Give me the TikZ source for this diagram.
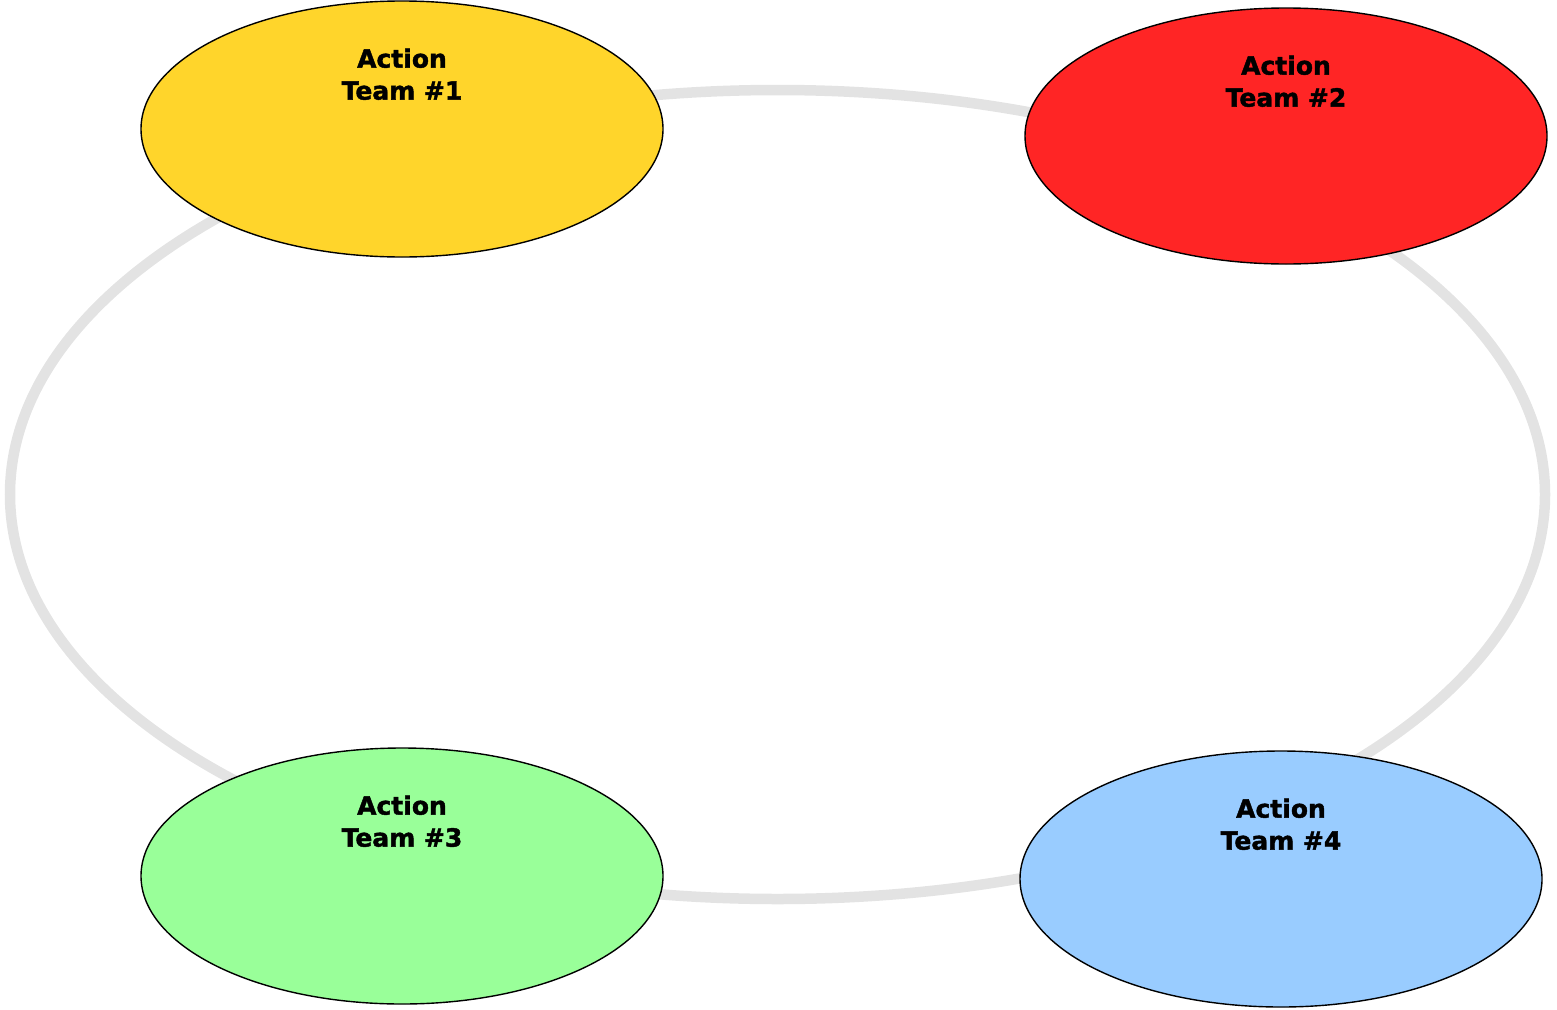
\documentclass[tikz,border=0pt]{standalone}
\usepackage{fontspec}
\setmainfont{DejaVu Sans}[BoldFeatures={FakeBold=1.6}]
\usetikzlibrary{shapes.geometric}
\definecolor{teamyellow}{HTML}{FFD52B}
\definecolor{teamred}{HTML}{FF2525}
\definecolor{teamgreen}{HTML}{99FF99}
\definecolor{teamblue}{HTML}{99CCFF}
\definecolor{ringgrey}{HTML}{E3E3E3}
\tikzset{
	team/.style={ellipse,draw=black,line width=1.4pt,minimum width=522pt,minimum height=256pt,inner sep=0pt},
	teamtext/.style={align=center,font=\bfseries\fontsize{25}{32}\selectfont,inner sep=0pt}
}
\begin{document}
\begin{tikzpicture}[x=1pt,y=-1pt]
		\useasboundingbox (0,0) rectangle (1557,1009);
		\coordinate (C) at (777.5,494.5);
		\draw[ringgrey,line width=10.5pt] (C) ellipse (767.5 and 404.5);
		\node[team,fill=teamyellow] (T1) at (402,129){};
		\node[team,fill=teamred] (T2) at (1286,136){};
		\node[team,fill=teamgreen] (T3) at (402,876){};
		\node[team,fill=teamblue] (T4) at (1281,879){};
		%labels sit in the upper part of each ellipse
		\node[teamtext] (L1) at ([yshift=-74pt]T1.north){Action\\Team \#1};
		\node[teamtext] (L2) at ([yshift=-74pt]T2.north){Action\\Team \#2};
		\node[teamtext] (L3) at ([yshift=-74pt]T3.north){Action\\Team \#3};
		\node[teamtext] (L4) at ([yshift=-74pt]T4.north){Action\\Team \#4};
	\end{tikzpicture}
\end{document}
